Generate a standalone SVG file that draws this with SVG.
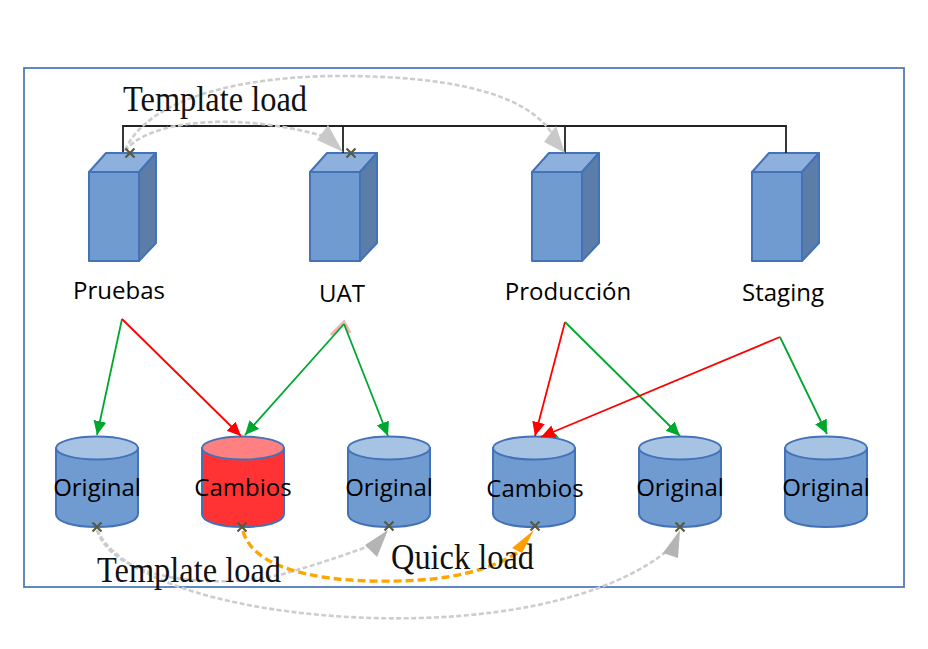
<svg xmlns="http://www.w3.org/2000/svg" width="928" height="649" viewBox="0 0 928 649">
<defs>
<style>
.lbl{font-family:"Open Sans","Liberation Sans",sans-serif;font-size:24px;fill:#000;text-anchor:middle}
.ser{font-family:"Liberation Serif",serif;font-size:35px;fill:#111}
.blue{stroke:#4472b8;stroke-width:2;stroke-linejoin:round}
.gr{fill:none;stroke:#00a72f;stroke-width:1.8}
.rd{fill:none;stroke:#f00;stroke-width:1.8}
.gd{fill:none;stroke:#cdcdcd;stroke-width:2.6;stroke-dasharray:5 2.500}
.or{fill:none;stroke:#ffa500;stroke-width:3.4;stroke-dasharray:8 4}
.x{stroke:#5a5a3c;stroke-width:2.2;fill:none}
</style>
<marker id="ag" markerUnits="userSpaceOnUse" markerWidth="15" markerHeight="14" refX="14" refY="6.5" orient="auto"><path d="M0 0L14 6.5L0 13z" fill="#00a72f"/></marker>
<marker id="ar" markerUnits="userSpaceOnUse" markerWidth="15" markerHeight="14" refX="14" refY="6.5" orient="auto"><path d="M0 0L14 6.5L0 13z" fill="#f00"/></marker>
<g id="srv"><path class="blue" fill="#6f9bd0" d="M0 19H50V108H0z"/><path class="blue" fill="#8db0dc" d="M0 19L17 0H67L50 19z"/><path class="blue" fill="#5b7da8" d="M50 19L67 0V90L50 108z"/></g>
<g id="db"><path class="blue" fill="#6f9bd0" d="M0 12V78C0 86 18 91 41 91S82 86 82 78V12z"/><ellipse class="blue" fill="#a6c3e3" cx="41" cy="12" rx="41" ry="11.500"/></g>
<path id="mk" class="x" d="M-4.500-4.500L4.500 4.500M4.500-4.500L-4.500 4.500"/>
</defs>
<rect width="928" height="649" fill="#fff"/>
<rect x="24" y="68" width="880" height="519" fill="none" stroke="#4f7cb8" stroke-width="1.800"/>
<g id="node-pruebas"><use href="#srv" x="89" y="153"/><text class="lbl" x="119" y="299">Pruebas</text></g>
<g id="node-uat"><use href="#srv" x="310" y="153"/><text class="lbl" x="342" y="302">UAT</text></g>
<g id="node-produccion"><use href="#srv" x="532" y="153"/><text class="lbl" x="568" y="300">Producción</text></g>
<g id="node-staging"><use href="#srv" x="752" y="153"/><text class="lbl" x="783" y="301">Staging</text></g>
<g id="node-db1"><use href="#db" x="56" y="436"/><text class="lbl" x="97" y="496">Original</text></g>
<g id="node-db2"><path class="blue" fill="#ff3333" d="M202 448V514C202 522 220 527 243 527S284 522 284 514V448z"/><ellipse class="blue" fill="#ff8080" cx="243" cy="448" rx="41" ry="11.500"/><text class="lbl" x="243" y="496">Cambios</text></g>
<g id="node-db3"><use href="#db" x="348" y="436"/><text class="lbl" x="389" y="496">Original</text></g>
<g id="node-db4"><use href="#db" x="493" y="436"/><text class="lbl" x="535" y="497">Cambios</text></g>
<g id="node-db5"><use href="#db" x="639" y="436"/><text class="lbl" x="680" y="496">Original</text></g>
<g id="node-db6"><use href="#db" x="785" y="436"/><text class="lbl" x="826" y="496">Original</text></g>
<g id="connectors">
<path fill="none" stroke="#222" stroke-width="1.800" d="M123 152V126H786V153M343 126V153M565 126V153"/>
<path class="gr" marker-end="url(#ag)" d="M122 319L97 435"/>
<path class="rd" marker-end="url(#ar)" d="M122 319L241 436"/>
<path fill="none" stroke="#f5b0b0" stroke-width="3" d="M331 335L344 322L350 333"/>
<path class="gr" marker-end="url(#ag)" d="M344 324L245 435"/>
<path class="gr" marker-end="url(#ag)" d="M344 324L388 436"/>
<path d="M539 436L556 434L559 438z" fill="#00a72f"/>
<path class="rd" marker-end="url(#ar)" d="M565 322L535 436"/>
<path class="gr" marker-end="url(#ag)" d="M565 322L680 436"/>
<path class="rd" marker-end="url(#ar)" d="M780 337L541 437"/>
<path class="gr" marker-end="url(#ag)" d="M780 337L827 434"/>
<path class="gd" d="M125 151C150 118 245 112 330 138"/>
<path d="M343 152L317 140L328 125z" fill="#c9c9c9"/>
<path class="gd" d="M125 150C150 95 250 76 340 76C440 76 525 90 553 135"/>
<path d="M565 153L544 142L556 126z" fill="#c9c9c9"/>
<path class="gd" d="M97 530C115 585 230 590 290 572C325 562 350 553 372 545"/>
<path d="M388 530L377 557L365 545z" fill="#b4b4b4"/>
<path class="gd" d="M97 530C125 590 280 622 420 618C530 615 620 590 668 550"/>
<path d="M680 530L678 558L663 553z" fill="#b4b4b4"/>
<path class="or" d="M243 531C255 575 340 585 420 580C465 577 500 565 518 552"/>
<path d="M534 530L522 553L512 548z" fill="#ffa000"/>
<use href="#mk" x="130" y="153"/><use href="#mk" x="351" y="153"/>
<use href="#mk" x="97" y="527"/><use href="#mk" x="242" y="527"/><use href="#mk" x="389" y="526"/><use href="#mk" x="535" y="526"/><use href="#mk" x="680" y="527"/>
</g>
<text class="ser" x="123" y="111" textLength="184" lengthAdjust="spacingAndGlyphs">Template load</text>
<text class="ser" x="97" y="582" textLength="184" lengthAdjust="spacingAndGlyphs">Template load</text>
<text class="ser" x="391" y="569" textLength="143" lengthAdjust="spacingAndGlyphs">Quick load</text>
</svg>
